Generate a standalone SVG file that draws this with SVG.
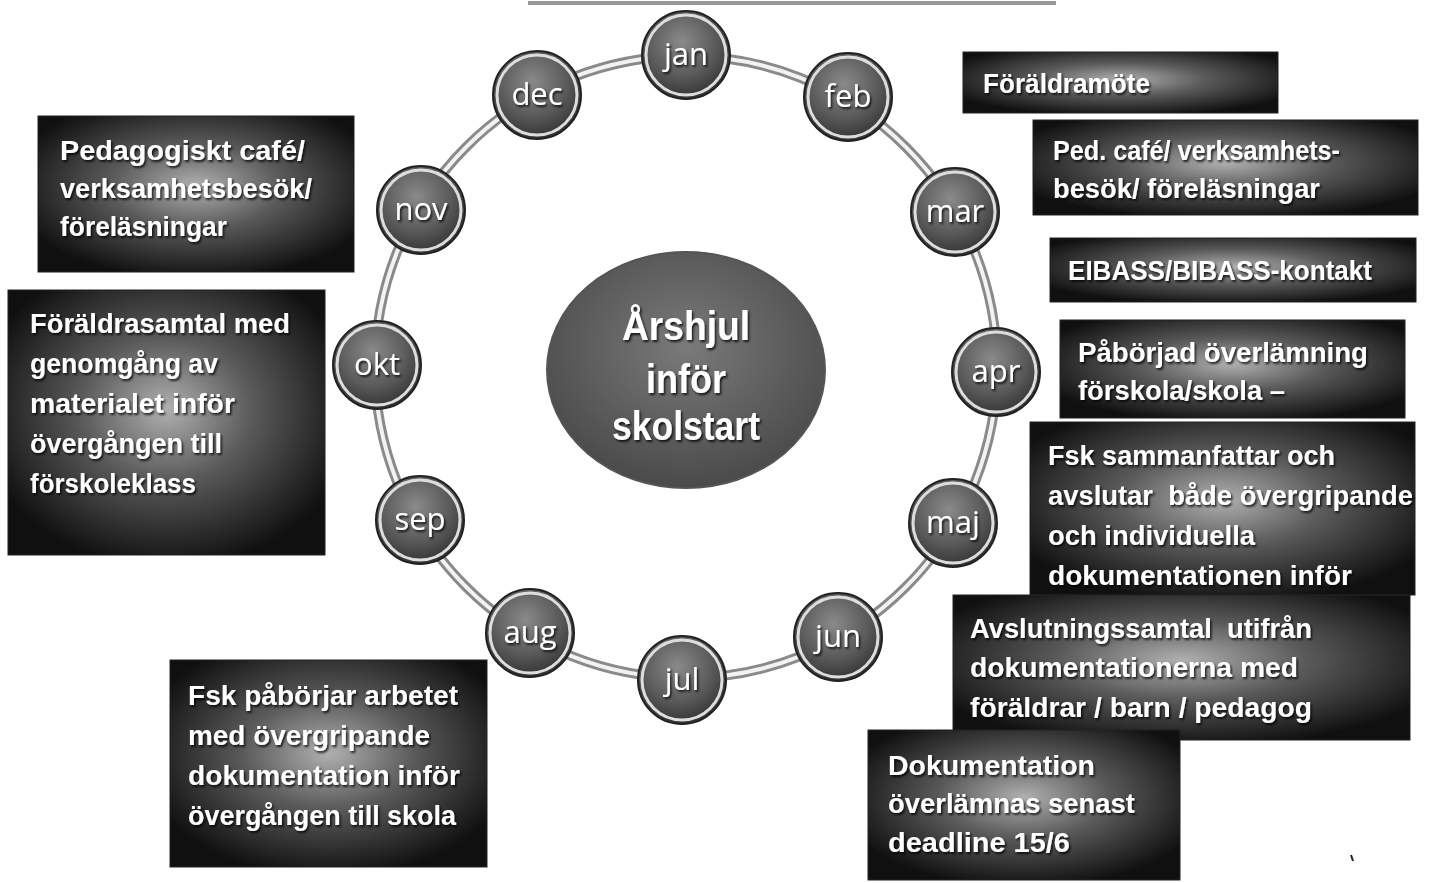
<svg xmlns="http://www.w3.org/2000/svg" width="1430" height="883" viewBox="0 0 1430 883">
<defs>
<radialGradient id="boxg" cx="0.5" cy="0.45" r="0.6">
<stop offset="0" stop-color="#b0b0b0"/>
<stop offset="0.45" stop-color="#5a5a5a"/>
<stop offset="1" stop-color="#101010"/>
</radialGradient>
<radialGradient id="ballg" cx="0.45" cy="0.35" r="0.65">
<stop offset="0" stop-color="#8a8a8a"/>
<stop offset="0.6" stop-color="#5a5a5a"/>
<stop offset="1" stop-color="#333"/>
</radialGradient>
<radialGradient id="hubg" cx="0.5" cy="0.4" r="0.6">
<stop offset="0" stop-color="#7a7a7a"/>
<stop offset="1" stop-color="#4a4a4a"/>
</radialGradient>
<filter id="sh" x="-10%" y="-10%" width="120%" height="130%">
<feDropShadow dx="1.5" dy="2" stdDeviation="1" flood-color="#000" flood-opacity="0.8"/>
</filter>
</defs>
<style>
.box{fill:url(#boxg);stroke:#222;stroke-width:1}
.bt{font-family:"Liberation Sans",Arial,sans-serif;font-weight:bold;font-size:27px;fill:#fff;filter:url(#sh);white-space:pre}
.mt{font-family:"Open Sans","Liberation Sans",sans-serif;font-size:31px;fill:#fff;text-anchor:middle;filter:url(#sh)}
.ht{font-family:"Liberation Sans",Arial,sans-serif;font-weight:bold;font-size:40px;fill:#fff;text-anchor:middle;filter:url(#sh)}
.ball{fill:url(#ballg);stroke:#222;stroke-width:2}
.rim{fill:none;stroke:#ddd;stroke-width:3}
</style>
<rect width="1430" height="883" fill="#fff"/>
<line x1="528" y1="3" x2="1056" y2="3" stroke="#999" stroke-width="4"/>
<g id="connectors">
<circle cx="686" cy="367" r="311" fill="none" stroke="#8a8a8a" stroke-width="10"/>
<circle cx="686" cy="367" r="311" fill="none" stroke="#f2f2f2" stroke-width="4"/>
</g>
<g id="hub">
<ellipse cx="686" cy="370" rx="139" ry="118" fill="url(#hubg)" stroke="#555" stroke-width="2"/>
<text class="ht" x="686" y="340" textLength="128" lengthAdjust="spacingAndGlyphs">Årshjul</text>
<text class="ht" x="686" y="393" textLength="80" lengthAdjust="spacingAndGlyphs">inför</text>
<text class="ht" x="686" y="440" textLength="148" lengthAdjust="spacingAndGlyphs">skolstart</text>
</g>
<g id="m-jan"><circle cx="686" cy="55" r="44" class="ball"/><circle cx="686" cy="55" r="40" class="rim"/><text class="mt" x="686" y="65">jan</text></g>
<g id="m-feb"><circle cx="848" cy="97" r="44" class="ball"/><circle cx="848" cy="97" r="40" class="rim"/><text class="mt" x="848" y="107">feb</text></g>
<g id="m-mar"><circle cx="955" cy="212" r="44" class="ball"/><circle cx="955" cy="212" r="40" class="rim"/><text class="mt" x="955" y="222">mar</text></g>
<g id="m-apr"><circle cx="996" cy="372" r="44" class="ball"/><circle cx="996" cy="372" r="40" class="rim"/><text class="mt" x="996" y="382">apr</text></g>
<g id="m-maj"><circle cx="953" cy="523" r="44" class="ball"/><circle cx="953" cy="523" r="40" class="rim"/><text class="mt" x="953" y="533">maj</text></g>
<g id="m-jun"><circle cx="838" cy="637" r="44" class="ball"/><circle cx="838" cy="637" r="40" class="rim"/><text class="mt" x="838" y="647">jun</text></g>
<g id="m-jul"><circle cx="682" cy="680" r="44" class="ball"/><circle cx="682" cy="680" r="40" class="rim"/><text class="mt" x="682" y="690">jul</text></g>
<g id="m-aug"><circle cx="530" cy="633" r="44" class="ball"/><circle cx="530" cy="633" r="40" class="rim"/><text class="mt" x="530" y="643">aug</text></g>
<g id="m-sep"><circle cx="420" cy="520" r="44" class="ball"/><circle cx="420" cy="520" r="40" class="rim"/><text class="mt" x="420" y="530">sep</text></g>
<g id="m-okt"><circle cx="377" cy="365" r="44" class="ball"/><circle cx="377" cy="365" r="40" class="rim"/><text class="mt" x="377" y="375">okt</text></g>
<g id="m-nov"><circle cx="421" cy="210" r="44" class="ball"/><circle cx="421" cy="210" r="40" class="rim"/><text class="mt" x="421" y="220">nov</text></g>
<g id="m-dec"><circle cx="537" cy="95" r="44" class="ball"/><circle cx="537" cy="95" r="40" class="rim"/><text class="mt" x="537" y="105">dec</text></g>

<g id="b-pedcafe-left">
<rect class="box" x="38" y="116" width="316" height="156"/>
<text class="bt" x="60" y="160" textLength="245" lengthAdjust="spacingAndGlyphs">Pedagogiskt café/</text>
<text class="bt" x="60" y="198" textLength="252" lengthAdjust="spacingAndGlyphs">verksamhetsbesök/</text>
<text class="bt" x="60" y="236" textLength="167" lengthAdjust="spacingAndGlyphs">föreläsningar</text>
</g>
<g id="b-foraldrasamtal">
<rect class="box" x="8" y="290" width="317" height="265"/>
<text class="bt" x="30" y="333" textLength="260" lengthAdjust="spacingAndGlyphs">Föräldrasamtal med</text>
<text class="bt" x="30" y="373" textLength="188" lengthAdjust="spacingAndGlyphs">genomgång av</text>
<text class="bt" x="30" y="413" textLength="205" lengthAdjust="spacingAndGlyphs">materialet inför</text>
<text class="bt" x="30" y="453" textLength="192" lengthAdjust="spacingAndGlyphs">övergången till</text>
<text class="bt" x="30" y="493" textLength="166" lengthAdjust="spacingAndGlyphs">förskoleklass</text>
</g>
<g id="b-fsk-paborjar">
<rect class="box" x="170" y="660" width="317" height="207"/>
<text class="bt" x="188" y="705" textLength="270" lengthAdjust="spacingAndGlyphs">Fsk påbörjar arbetet</text>
<text class="bt" x="188" y="745" textLength="242" lengthAdjust="spacingAndGlyphs">med övergripande</text>
<text class="bt" x="188" y="785" textLength="272" lengthAdjust="spacingAndGlyphs">dokumentation inför</text>
<text class="bt" x="188" y="825" textLength="268" lengthAdjust="spacingAndGlyphs">övergången till skola</text>
</g>
<g id="b-foraldramote">
<rect class="box" x="963" y="52" width="315" height="61"/>
<text class="bt" x="983" y="93" textLength="167" lengthAdjust="spacingAndGlyphs">Föräldramöte</text>
</g>
<g id="b-pedcafe-right">
<rect class="box" x="1033" y="120" width="385" height="95"/>
<text class="bt" x="1053" y="160" textLength="287" lengthAdjust="spacingAndGlyphs">Ped. café/ verksamhets-</text>
<text class="bt" x="1053" y="198" textLength="267" lengthAdjust="spacingAndGlyphs">besök/ föreläsningar</text>
</g>
<g id="b-eibass">
<rect class="box" x="1050" y="238" width="366" height="64"/>
<text class="bt" x="1068" y="280" textLength="304" lengthAdjust="spacingAndGlyphs">EIBASS/BIBASS-kontakt</text>
</g>
<g id="b-paborjad">
<rect class="box" x="1060" y="320" width="345" height="98"/>
<text class="bt" x="1078" y="362" textLength="290" lengthAdjust="spacingAndGlyphs">Påbörjad överlämning</text>
<text class="bt" x="1078" y="400" textLength="207" lengthAdjust="spacingAndGlyphs">förskola/skola –</text>
</g>
<g id="b-fsk-sammanfattar">
<rect class="box" x="1030" y="422" width="385" height="173"/>
<text class="bt" x="1048" y="465" textLength="287" lengthAdjust="spacingAndGlyphs">Fsk sammanfattar och</text>
<text class="bt" x="1048" y="505" textLength="365" lengthAdjust="spacingAndGlyphs">avslutar  både övergripande</text>
<text class="bt" x="1048" y="545" textLength="207" lengthAdjust="spacingAndGlyphs">och individuella</text>
<text class="bt" x="1048" y="585" textLength="304" lengthAdjust="spacingAndGlyphs">dokumentationen inför</text>
</g>
<g id="b-avslutning">
<rect class="box" x="953" y="595" width="457" height="145"/>
<text class="bt" x="970" y="638" textLength="342" lengthAdjust="spacingAndGlyphs">Avslutningssamtal  utifrån</text>
<text class="bt" x="970" y="677" textLength="328" lengthAdjust="spacingAndGlyphs">dokumentationerna med</text>
<text class="bt" x="970" y="717" textLength="342" lengthAdjust="spacingAndGlyphs">föräldrar / barn / pedagog</text>
</g>
<g id="b-dokumentation">
<rect class="box" x="868" y="730" width="312" height="150"/>
<text class="bt" x="888" y="775" textLength="207" lengthAdjust="spacingAndGlyphs">Dokumentation</text>
<text class="bt" x="888" y="813" textLength="247" lengthAdjust="spacingAndGlyphs">överlämnas senast</text>
<text class="bt" x="888" y="852" textLength="182" lengthAdjust="spacingAndGlyphs">deadline 15/6</text>
</g>
<line x1="1353" y1="861" x2="1351" y2="855" stroke="#222" stroke-width="2"/>
</svg>
